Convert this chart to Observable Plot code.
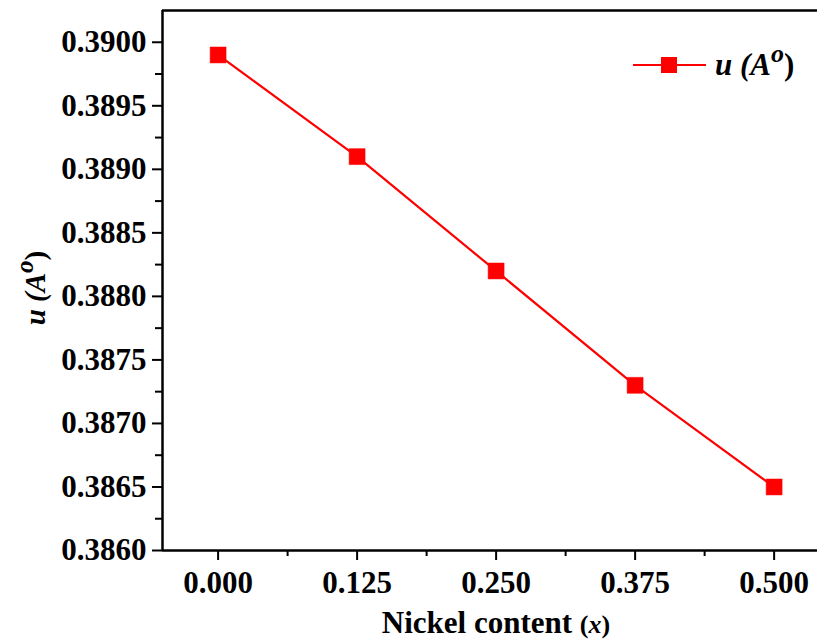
<!DOCTYPE html>
<html><head><meta charset="utf-8">
<script src="https://cdn.jsdelivr.net/npm/d3@7"></script>
<script src="https://cdn.jsdelivr.net/npm/@observablehq/plot@0.6"></script>
<style>
body{margin:0;background:#fff;}
#wrap{position:relative;width:817px;height:641px;overflow:hidden;}
</style>
</head><body><div id="wrap"></div>
<script>
const nickel = [0, 0.125, 0.25, 0.375, 0.5];
const uValues = [0.3899, 0.3891, 0.3882, 0.3873, 0.3865];
const xTicks = [0, 0.125, 0.25, 0.375, 0.5];
const xMinor = [0.0625, 0.1875, 0.3125, 0.4375];
const yTicks = [0.386, 0.3865, 0.387, 0.3875, 0.388, 0.3885, 0.389, 0.3895, 0.39];
const yMinor = [0.38625, 0.38675, 0.38725, 0.38775, 0.38825, 0.38875, 0.38925, 0.38975];
const xDomain = [-0.05, 0.539];
const yDomain = [0.386, 0.39025];

const data = nickel.map((x, i) => ({x, u: uValues[i]}));
const font = "'Liberation Serif','Times New Roman',serif";

const chart = Plot.plot({
  width: 817, height: 641,
  marginLeft: 162, marginRight: 0, marginTop: 10, marginBottom: 91,
  style: {fontFamily: font, fontSize: "31px", fontWeight: "bold", color: "#000", background: "#fff"},
  x: {domain: xDomain},
  y: {domain: yDomain},
  marks: [
    Plot.axisX({ticks: xTicks, tickSize: 10, tickPadding: 10, fontSize: 31, tickFormat: d => d.toFixed(3), label: null, strokeWidth: 2}),
    Plot.axisX({ticks: xMinor, tickSize: 6, tickFormat: () => "", label: null, strokeWidth: 2}),
    Plot.axisY({ticks: yTicks, tickSize: 10, tickPadding: 6, fontSize: 31, tickFormat: d => d.toFixed(4), label: null, strokeWidth: 2}),
    Plot.axisY({ticks: yMinor, tickSize: 7, tickFormat: () => "", label: null, strokeWidth: 2}),
    Plot.ruleX([xDomain[0]], {stroke: "#000", strokeWidth: 2.5}),
    Plot.ruleY([yDomain[0]], {stroke: "#000", strokeWidth: 2.5}),
    Plot.ruleY([yDomain[1]], {stroke: "#000", strokeWidth: 2.5}),
    Plot.line(data, {x: "x", y: "u", stroke: "#ff0000", strokeWidth: 2.2}),
    Plot.dot(data, {x: "x", y: "u", symbol: "square", r: 9, fill: "#ff0000", stroke: "#ff0000", strokeWidth: 0.5})
  ]
});

const svg = d3.select(chart);
// x axis label
const xl = svg.append("text")
  .attr("x", 496).attr("y", 633)
  .attr("text-anchor", "middle")
  .style("font-family", font).style("font-weight", "bold").style("font-size", "31px").attr("fill", "#000");
xl.append("tspan").text("Nickel content ");
xl.append("tspan").style("font-size", "26px").text("(");
xl.append("tspan").style("font-size", "26px").style("font-style", "italic").text("x");
xl.append("tspan").style("font-size", "26px").text(")");

// y axis label
const yl = svg.append("text")
  .attr("transform", "translate(45,288) rotate(-90)")
  .attr("text-anchor", "middle")
  .style("font-family", font).style("font-weight", "bold").style("font-style", "italic").style("font-size", "29px").attr("fill", "#000");
yl.append("tspan").text("u (A");
yl.append("tspan").attr("dy", "-12").style("font-size", "25px").text("o");
yl.append("tspan").attr("dy", "12").style("font-style", "normal").text(")");

// legend
const lg = svg.append("g");
lg.append("line").attr("x1", 633).attr("x2", 706).attr("y1", 65).attr("y2", 65).attr("stroke", "#ff0000").attr("stroke-width", 2.2);
lg.append("rect").attr("x", 661).attr("y", 57).attr("width", 16).attr("height", 16).attr("fill", "#ff0000");
const lt = lg.append("text").attr("x", 715).attr("y", 75)
  .attr("text-anchor", "start")
  .style("font-family", font).style("font-weight", "bold").style("font-style", "italic").style("font-size", "31px").attr("fill", "#000");
lt.append("tspan").text("u (A");
lt.append("tspan").attr("dy", "-13").style("font-size", "26px").text("o");
lt.append("tspan").attr("dy", "13").style("font-style", "normal").text(")");

document.getElementById("wrap").appendChild(chart);
</script>
</body></html>
